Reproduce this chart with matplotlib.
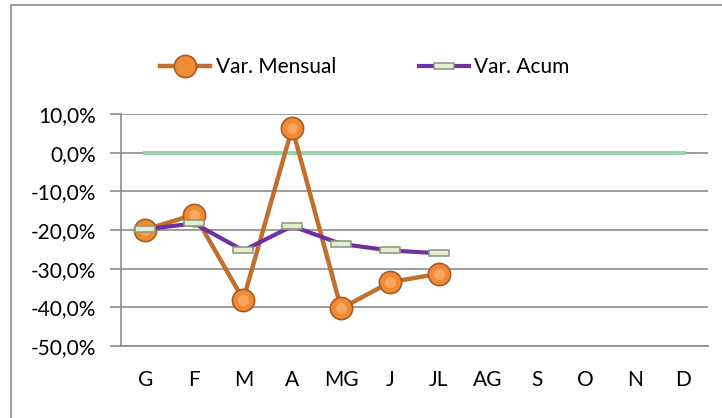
import matplotlib.pyplot as plt
import numpy as np
from matplotlib.path import Path
from matplotlib.patches import Rectangle

plt.rcParams['font.family'] = ['Lato', 'DejaVu Sans']

meses = ['G', 'F', 'M', 'A', 'MG', 'J', 'JL', 'AG', 'S', 'O', 'N', 'D']
var_mensual = [-19.9, -16.0, -38.0, 6.4, -40.3, -33.5, -31.3]
var_acum = [-19.8, -18.3, -25.3, -19.0, -23.6, -25.3, -26.0]
cero = [0.0] * 12
yticks = [10, 0, -10, -20, -30, -40, -50]

fig = plt.figure(figsize=(7.22, 4.18), dpi=100)
ax = fig.add_axes([121/722, 1 - 346/418, 587/722, 232/418])

# marc exterior del gràfic
fig.patches.append(Rectangle((11/722, -0.1), 1.2, 1 - 5/418 + 0.1, transform=fig.transFigure,
                             fill=False, edgecolor='#8c8c8c', lw=1.2))

x = np.arange(len(meses))
ax.plot(x, cero, color='#8fd6a8', lw=2.8, zorder=2)

rect = Path([(-1, -0.3), (1, -0.3), (1, 0.3), (-1, 0.3), (-1, -0.3)],
            [Path.MOVETO, Path.LINETO, Path.LINETO, Path.LINETO, Path.CLOSEPOLY])

ax.plot(x[:len(var_mensual)], var_mensual, color='#C0702E', lw=3.2,
        marker='o', ms=16, mfc='#F08A35', mec='#A85A20', mew=1.2,
        label='Var. Mensual', zorder=3)
# brillantor del centre de les esferes
ax.plot(x[:len(var_mensual)], var_mensual, ls='none', marker='o', ms=8,
        mfc='#F9A55C', mec='none', zorder=3.5)
ax.plot(x[:len(var_acum)], var_acum, color='#7030A0', lw=3,
        marker=rect, ms=15, mfc='#E4EDD2', mec='#8E9C80', mew=1.2,
        label='Var. Acum', zorder=4)

ax.set_xlim(-0.5, 11.5)
ax.set_ylim(-50, 10)
ax.set_xticks(x)
ax.set_xticklabels(meses)
ax.set_yticks(yticks)
ax.set_yticklabels([('%.1f%%' % v).replace('.', ',') for v in yticks])
ax.tick_params(axis='x', length=0, pad=17, labelsize=15)
ax.tick_params(axis='y', length=8, width=1.2, color='#8c8c8c', pad=10, labelsize=15)
ax.grid(axis='y', color='#8c8c8c', lw=1.2)
ax.set_axisbelow(True)
for s in ['top', 'right']:
    ax.spines[s].set_visible(False)
for s in ['left', 'bottom']:
    ax.spines[s].set_color('#8c8c8c')
    ax.spines[s].set_linewidth(1.2)

ax.legend(loc='center left', bbox_to_anchor=(152/722, 1 - 67/418), bbox_transform=fig.transFigure,
          ncol=2, frameon=False, fontsize=15, handlelength=2.4, handletextpad=0.25,
          columnspacing=4.0, borderaxespad=0)

fig.savefig('out.png', dpi=100)
